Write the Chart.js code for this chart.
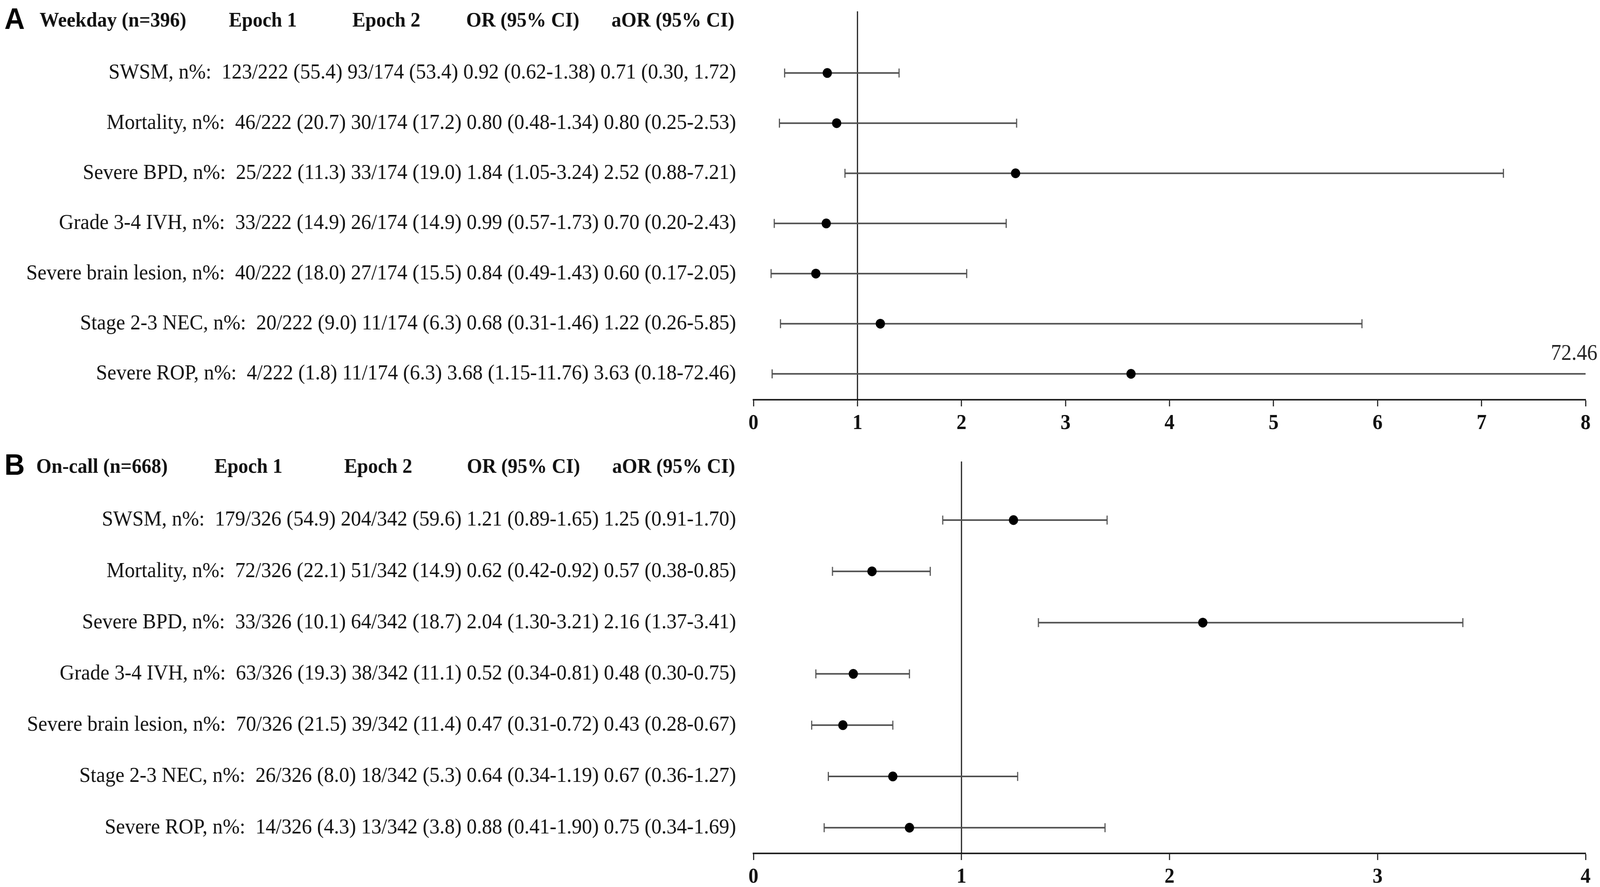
<!DOCTYPE html>
<html>
<head>
<meta charset="utf-8">
<script src="https://cdn.jsdelivr.net/npm/chart.js@4.4.1/dist/chart.umd.min.js"></script>
<style>
  html, body { margin: 0; background: #fff; overflow: hidden; }
  /* the charts are laid out on a 4328x2270 grid and scaled to the window */
  canvas { display: block; width: 100vw !important; }
  #panelA { height: calc(100vh * 1140 / 2270) !important; }
  #panelB { height: calc(100vh * 1130 / 2270) !important; }
</style>
</head>
<body>
<canvas id="panelA" width="4328" height="1140"></canvas>
<canvas id="panelB" width="4328" height="1130"></canvas>
<script>
// ======= DATA =======
const outcomes = ['SWSM', 'Mortality', 'Severe BPD', 'Grade 3-4 IVH', 'Severe brain lesion', 'Stage 2-3 NEC', 'Severe ROP'];
const columnTitles = ['Epoch 1', 'Epoch 2', 'OR (95% CI)', 'aOR (95% CI)'];

// Panel A - Weekday
const epoch1A = ['123/222 (55.4)', '46/222 (20.7)', '25/222 (11.3)', '33/222 (14.9)', '40/222 (18.0)', '20/222 (9.0)', '4/222 (1.8)'];
const epoch2A = ['93/174 (53.4)', '30/174 (17.2)', '33/174 (19.0)', '26/174 (14.9)', '27/174 (15.5)', '11/174 (6.3)', '11/174 (6.3)'];
const orTextA = ['0.92 (0.62-1.38)', '0.80 (0.48-1.34)', '1.84 (1.05-3.24)', '0.99 (0.57-1.73)', '0.84 (0.49-1.43)', '0.68 (0.31-1.46)', '3.68 (1.15-11.76)'];
const aorTextA = ['0.71 (0.30, 1.72)', '0.80 (0.25-2.53)', '2.52 (0.88-7.21)', '0.70 (0.20-2.43)', '0.60 (0.17-2.05)', '1.22 (0.26-5.85)', '3.63 (0.18-72.46)'];
const aorA = [0.71, 0.80, 2.52, 0.70, 0.60, 1.22, 3.63];
const aorLoA = [0.30, 0.25, 0.88, 0.20, 0.17, 0.26, 0.18];
const aorHiA = [1.40, 2.53, 7.21, 2.43, 2.05, 5.85, 72.46];
const xTicksA = [0, 1, 2, 3, 4, 5, 6, 7, 8];

// Panel B - On-call
const epoch1B = ['179/326 (54.9)', '72/326 (22.1)', '33/326 (10.1)', '63/326 (19.3)', '70/326 (21.5)', '26/326 (8.0)', '14/326 (4.3)'];
const epoch2B = ['204/342 (59.6)', '51/342 (14.9)', '64/342 (18.7)', '38/342 (11.1)', '39/342 (11.4)', '18/342 (5.3)', '13/342 (3.8)'];
const orTextB = ['1.21 (0.89-1.65)', '0.62 (0.42-0.92)', '2.04 (1.30-3.21)', '0.52 (0.34-0.81)', '0.47 (0.31-0.72)', '0.64 (0.34-1.19)', '0.88 (0.41-1.90)'];
const aorTextB = ['1.25 (0.91-1.70)', '0.57 (0.38-0.85)', '2.16 (1.37-3.41)', '0.48 (0.30-0.75)', '0.43 (0.28-0.67)', '0.67 (0.36-1.27)', '0.75 (0.34-1.69)'];
const aorB = [1.25, 0.57, 2.16, 0.48, 0.43, 0.67, 0.75];
const aorLoB = [0.91, 0.38, 1.37, 0.30, 0.28, 0.36, 0.34];
const aorHiB = [1.70, 0.85, 3.41, 0.75, 0.67, 1.27, 1.69];
const xTicksB = [0, 1, 2, 3, 4];

// ======= STYLE =======
const SERIF = "'Liberation Serif', 'Times New Roman', serif";
const SANS = "'Liberation Sans', Arial, sans-serif";
const BAR_COLOR = '#505050';
const REF_VALUE = 1;

Chart.defaults.font.family = SERIF;
Chart.defaults.color = '#111';

// header text (panel letter + column titles) drawn above the first row
const headerPlugin = {
  id: 'header',
  afterDraw(chart, args, opts) {
    const ctx = chart.ctx;
    const y = chart.scales.y.getPixelForValue(opts.row);
    ctx.save();
    ctx.textBaseline = 'middle';
    ctx.fillStyle = '#000';
    ctx.font = `bold 76px ${SANS}`;
    ctx.textAlign = 'left';
    ctx.fillText(opts.letter, 12, y - 2);
    ctx.fillStyle = '#111';
    ctx.font = `bold 53px ${SERIF}`;
    ctx.fillText(opts.title, opts.cols[0], y);
    columnTitles.forEach((t, i) => ctx.fillText(t, opts.cols[i + 1], y));
    ctx.restore();
  }
};

// value of an upper limit that runs off the axis, written at the end of the bar
const overflowPlugin = {
  id: 'overflow',
  afterDatasetsDraw(chart, args, opts) {
    const { ctx, chartArea, scales } = chart;
    ctx.save();
    ctx.font = `56px ${SERIF}`;
    ctx.fillStyle = '#222';
    ctx.textAlign = 'right';
    ctx.textBaseline = 'middle';
    opts.hi.forEach((h, i) => {
      if (h > scales.x.max) {
        ctx.fillText(h.toFixed(2), chartArea.right + 32, scales.y.getPixelForValue(i + 1) - 50);
      }
    });
    ctx.restore();
  }
};

function makePanel(id, p) {
  const rows = outcomes.map((o, i) => `${o}, n%:  ${p.e1[i]} ${p.e2[i]} ${p.or[i]} ${p.aor[i]}`);

  const datasets = [];
  // point estimates
  datasets.push({
    type: 'scatter',
    data: p.est.map((v, i) => ({ x: v, y: i + 1 })),
    pointRadius: 12.5,
    pointBackgroundColor: '#000',
    pointBorderWidth: 0,
    order: 0
  });
  // confidence intervals with end caps
  p.lo.forEach((l, i) => {
    datasets.push({
      type: 'line',
      data: [{ x: l, y: i + 1 }, { x: p.hi[i], y: i + 1 }],
      borderColor: BAR_COLOR,
      borderWidth: 4,
      pointStyle: 'line',
      rotation: 90,
      pointRadius: 11.5,
      pointBorderWidth: 3,
      pointBorderColor: BAR_COLOR,
      order: 1
    });
  });
  // reference line at OR = 1
  datasets.push({
    type: 'line',
    data: [{ x: REF_VALUE, y: p.yMin }, { x: REF_VALUE, y: p.yMax }],
    borderColor: '#111',
    borderWidth: 3,
    pointRadius: 0,
    order: 2
  });

  return new Chart(document.getElementById(id), {
    type: 'scatter',
    data: { datasets },
    plugins: [headerPlugin, overflowPlugin],
    options: {
      responsive: false,
      devicePixelRatio: 1,
      animation: false,
      layout: { padding: { top: p.top, right: 39, left: 0, bottom: 0 } },
      plugins: {
        legend: { display: false },
        tooltip: { enabled: false },
        header: { letter: p.letter, title: p.title, cols: p.cols, row: -0.03 },
        overflow: { hi: p.hi }
      },
      scales: {
        x: {
          type: 'linear',
          min: p.xTicks[0],
          max: p.xTicks[p.xTicks.length - 1],
          afterBuildTicks: s => { s.ticks = p.xTicks.map(v => ({ value: v })); },
          afterFit: s => { s.height = p.xHeight; },
          border: { display: true, color: '#222', width: 4 },
          grid: { drawOnChartArea: false, drawTicks: true, tickLength: 17, tickWidth: 3, tickColor: '#222' },
          ticks: { padding: 12, color: '#111', font: { size: 54, weight: 'bold' } }
        },
        y: {
          type: 'linear',
          reverse: true,
          min: p.yMin,
          max: p.yMax,
          afterBuildTicks: s => { s.ticks = rows.map((r, i) => ({ value: i + 1 })); },
          afterFit: s => { s.width = 2038; s.paddingTop = 0; s.paddingBottom = 0; },
          border: { display: false },
          grid: { display: false, drawTicks: false },
          ticks: {
            padding: 47,
            color: '#111',
            font: { size: 55 },
            callback: v => rows[v - 1] || ''
          }
        }
      }
    }
  });
}

makePanel('panelA', {
  letter: 'A', title: 'Weekday (n=396)', cols: [107, 619, 953, 1261, 1654],
  e1: epoch1A, e2: epoch2A, or: orTextA, aor: aorTextA,
  est: aorA, lo: aorLoA, hi: aorHiA, xTicks: xTicksA,
  yMin: -0.23, yMax: 7.516, top: 29, xHeight: 117
});

makePanel('panelB', {
  letter: 'B', title: 'On-call (n=668)', cols: [98, 580, 931, 1263, 1656],
  e1: epoch1B, e2: epoch2B, or: orTextB, aor: aorTextB,
  est: aorB, lo: aorLoB, hi: aorHiB, xTicks: xTicksB,
  yMin: -0.143, yMax: 7.501, top: 41, xHeight: 86
});
</script>
</body>
</html>
